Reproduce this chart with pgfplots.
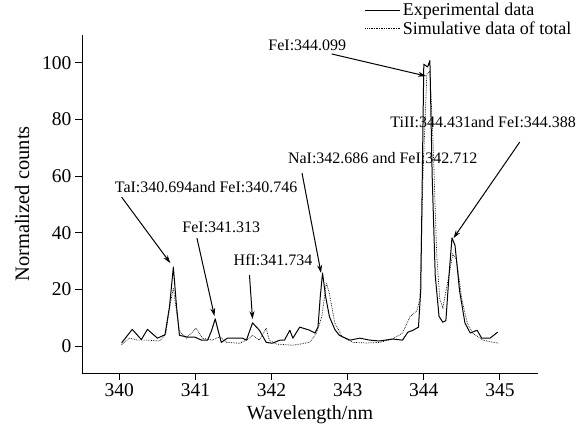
\documentclass[border=0pt]{standalone}
\usepackage{pgfplots}
\pgfplotsset{compat=1.18}
\usepackage{fontspec}
\setmainfont{Liberation Serif}
\usetikzlibrary{arrows.meta}

\pgfplotstableread{
x y
340.03 1.1
340.17 5.9
340.29 2.3
340.37 5.9
340.50 2.8
340.60 4.0
340.66 14.0
340.71 27.9
340.75 14.5
340.79 3.8
340.89 3.2
340.99 3.2
341.08 2.1
341.16 2.1
341.21 5.3
341.26 9.6
341.30 5.3
341.34 1.3
341.42 2.8
341.62 2.8
341.67 2.1
341.75 8.2
341.84 5.6
341.93 1.3
342.01 1.0
342.11 2.1
342.17 2.1
342.24 5.6
342.28 2.8
342.37 6.7
342.50 5.6
342.57 4.6
342.61 6.7
342.64 17.5
342.67 25.8
342.71 17.5
342.76 10.4
342.83 5.9
342.89 3.8
343.03 2.1
343.16 2.8
343.29 2.1
343.42 1.8
343.59 2.5
343.72 2.1
343.79 4.9
343.86 5.6
343.93 6.7
343.96 20.0
344.00 99.5
344.05 98.5
344.08 100.8
344.11 60.0
344.15 25.0
344.20 10.5
344.25 8.4
344.29 9.0
344.33 24.5
344.37 38.2
344.41 35.5
344.47 19.5
344.54 8.2
344.61 4.6
344.70 5.6
344.76 2.8
344.87 2.8
344.97 4.9
}\expdata

\pgfplotstableread{
x y
340.03 0.5
340.13 2.8
340.24 2.1
340.36 2.1
340.53 1.8
340.61 4.3
340.66 13.5
340.71 20.5
340.75 12.5
340.79 5.3
340.88 2.8
341.01 6.3
341.09 2.8
341.22 2.1
341.32 3.3
341.41 1.3
341.58 1.0
341.67 2.1
341.75 3.8
341.84 2.1
341.93 6.3
341.97 2.1
342.07 0.7
342.28 0.3
342.50 1.3
342.59 4.6
342.66 10.4
342.72 22.3
342.76 18.5
342.83 8.2
342.93 3.2
343.07 1.3
343.25 1.1
343.42 1.3
343.59 2.5
343.72 4.6
343.82 10.4
343.91 12.5
343.95 17.0
343.99 61.0
344.04 96.0
344.08 97.0
344.12 73.0
344.17 32.0
344.21 16.5
344.25 13.5
344.32 23.5
344.38 32.5
344.43 30.5
344.50 16.5
344.57 8.2
344.64 4.6
344.78 2.1
344.91 1.3
344.99 1.0
}\simdata

\begin{document}
\begin{tikzpicture}
\useasboundingbox (-82pt,-66pt) rectangle (497pt,373pt);
\begin{axis}[
  at={(0,0)}, anchor=south west,
  scale only axis, width=456pt, height=338pt,
  xmin=339.51, xmax=345.5, ymin=-9.5, ymax=109.8,
  axis lines=left, axis line style={-, line width=0.9pt},
  tick align=outside, major tick length=7pt,
  tick style={black, line width=0.9pt},
  xtick={340,341,342,343,344,345}, ytick={0,20,40,60,80,100},
  ticklabel style={font=\fontsize{19.5}{19.5}\selectfont},
  /pgf/number format/assume math mode=true,
  /pgf/number format/set thousands separator={},
  xlabel={Wavelength/nm}, ylabel={Normalized counts},
  xlabel style={font=\fontsize{20}{20}\selectfont, yshift=-2pt},
  ylabel style={font=\fontsize{20.5}{20.5}\selectfont, yshift=6pt},
  legend style={at={(0.62,1.10)}, anchor=north west, draw=none, fill=none,
    font=\fontsize{18}{18}\selectfont, inner sep=0pt, row sep=0pt},
  legend cell align=left,
  legend image code/.code={\draw[#1] (0pt,0pt) -- (35pt,0pt);},
  clip=false,
]
\addplot[black, line width=1.0pt, line join=round] table[x=x,y=y] {\expdata};
\addlegendentry{Experimental data}
\addplot[black, line width=0.7pt, densely dotted] table[x=x,y=y] {\simdata};
\addlegendentry{Simulative data of total}

\begin{scope}[font=\fontsize{16}{16}\selectfont]
\node at (axis cs:342.47,106.2) {FeI:344.099};
\node at (axis cs:344.78,79) {TiII:344.431and FeI:344.388};
\node at (axis cs:343.46,66.4) {NaI:342.686 and FeI:342.712};
\node at (axis cs:341.14,56.1) {TaI:340.694and FeI:340.746};
\node at (axis cs:341.34,42) {FeI:341.313};
\node at (axis cs:342.02,30.4) {HfI:341.734};
\end{scope}
\begin{scope}[-{Stealth[length=8pt,width=5pt]}, line width=1pt]
\draw (axis cs:342.79,103.1) -- (axis cs:344.03,95.3);
\draw (axis cs:345.26,72) -- (axis cs:344.39,38.1);
\draw (axis cs:342.40,61.1) -- (axis cs:342.65,25.8);
\draw (axis cs:340.03,52.6) -- (axis cs:340.67,29.3);
\draw (axis cs:341.02,38.1) -- (axis cs:341.25,10.6);
\draw (axis cs:341.71,25.1) -- (axis cs:341.75,9.5);
\end{scope}
\end{axis}
\end{tikzpicture}
\end{document}
